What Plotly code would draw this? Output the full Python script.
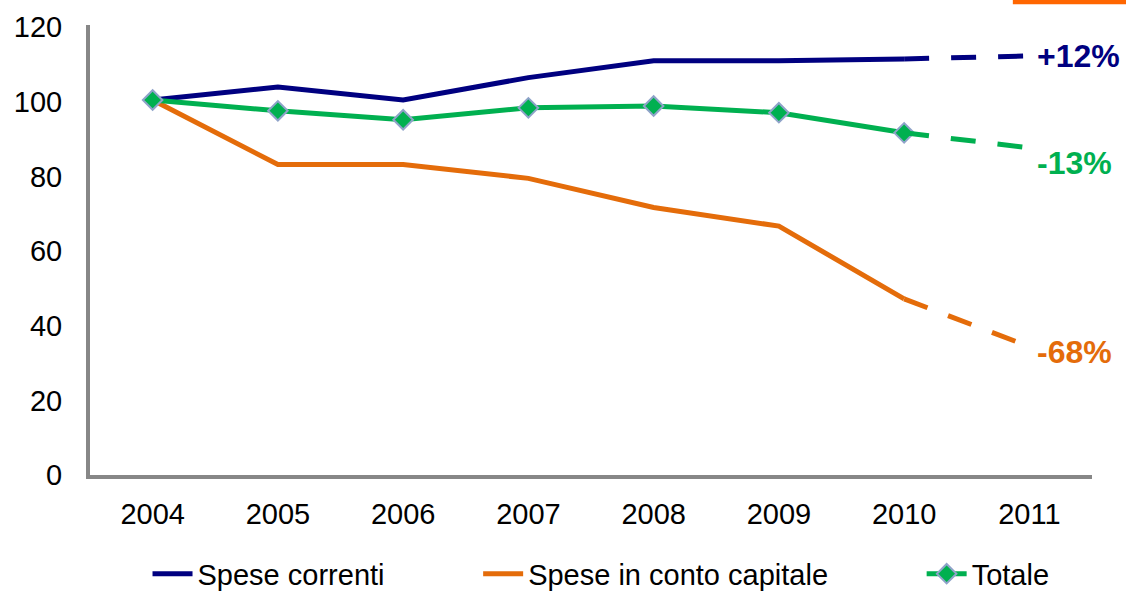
import plotly.graph_objects as go

years = ["2004", "2005", "2006", "2007", "2008", "2009", "2010", "2011"]
spese_correnti = [100.5, 104, 100.5, 106.5, 111, 111, 111.5, 112.3]
spese_capitale = [100.5, 83.2, 83.2, 79.5, 71.7, 66.7, 47.2, 34.4]
totale = [100.5, 97.6, 95.2, 98.4, 98.9, 97.1, 91.7, 87.7]
end_labels = ["+12%", "-68%", "-13%"]

NAVY = "#000080"
ORANGE = "#E46C0A"
GREEN = "#00B050"
FONT = "Liberation Sans, Arial, sans-serif"
PAD = "\u00a0" * 11

series = [
    ("Spese correnti" + PAD, spese_correnti, NAVY, False),
    ("Spese in conto capitale" + PAD, spese_capitale, ORANGE, False),
    ("Totale", totale, GREEN, True),
]

fig = go.Figure()
for name, vals, col, mk in series:
    fig.add_trace(go.Scatter(
        x=years[:7], y=vals[:7], name=name, mode="lines+markers" if mk else "lines",
        line=dict(color=col, width=5),
        marker=dict(symbol="diamond", size=15, color=col, line=dict(color="#8FA3C9", width=2)) if mk else None,
        showlegend=True,
    ))
    fig.add_trace(go.Scatter(
        x=years[6:], y=vals[6:], mode="lines", showlegend=False,
        line=dict(color=col, width=5, dash="25px,22px"), hoverinfo="skip",
    ))

last_idx = len(years) - 1
label_specs = [(spese_correnti, end_labels[0], NAVY, 0),
               (spese_capitale, end_labels[1], ORANGE, -5),
               (totale, end_labels[2], GREEN, -15)]
for vals, txt, col, ys in label_specs:
    fig.add_annotation(x=last_idx, y=vals[-1], xref="x", yref="y", text="<b>%s</b>" % txt,
                       showarrow=False, xanchor="left", xshift=6, yshift=ys,
                       font=dict(family=FONT, size=32, color=col))

fig.add_shape(type="rect", xref="paper", yref="paper", x0=0.921, x1=1.04, y0=1.046, y1=1.06,
              fillcolor="#FF6600", line=dict(width=0), layer="above")

fig.update_xaxes(type="category", range=[-0.5, 7.5], showline=True, linecolor="#878787", linewidth=4,
                 showgrid=False, zeroline=False, ticks="outside", ticklen=10, tickcolor="rgba(0,0,0,0)",
                 tickfont=dict(family=FONT, size=29, color="black"))
fig.update_yaxes(range=[0, 120.6], tickvals=[0, 20, 40, 60, 80, 100, 120], showline=True,
                 linecolor="#878787", linewidth=4, showgrid=False, zeroline=False,
                 ticks="outside", ticklen=18, tickcolor="rgba(0,0,0,0)",
                 tickfont=dict(family=FONT, size=29, color="black"))

fig.update_layout(
    width=1126, height=592, paper_bgcolor="white", plot_bgcolor="white",
    margin=dict(l=90, r=34, t=25, b=117, autoexpand=False),
    font=dict(family=FONT, size=29, color="black"),
    legend=dict(orientation="h", x=0.51, xanchor="center", y=-0.163, yanchor="top",
                font=dict(family=FONT, size=29, color="black"), itemwidth=40,
                bgcolor="rgba(0,0,0,0)"),
)

fig.write_html("out.html", config={"displayModeBar": False},
               post_script="document.body.style.margin='0';document.body.style.padding='0';")
